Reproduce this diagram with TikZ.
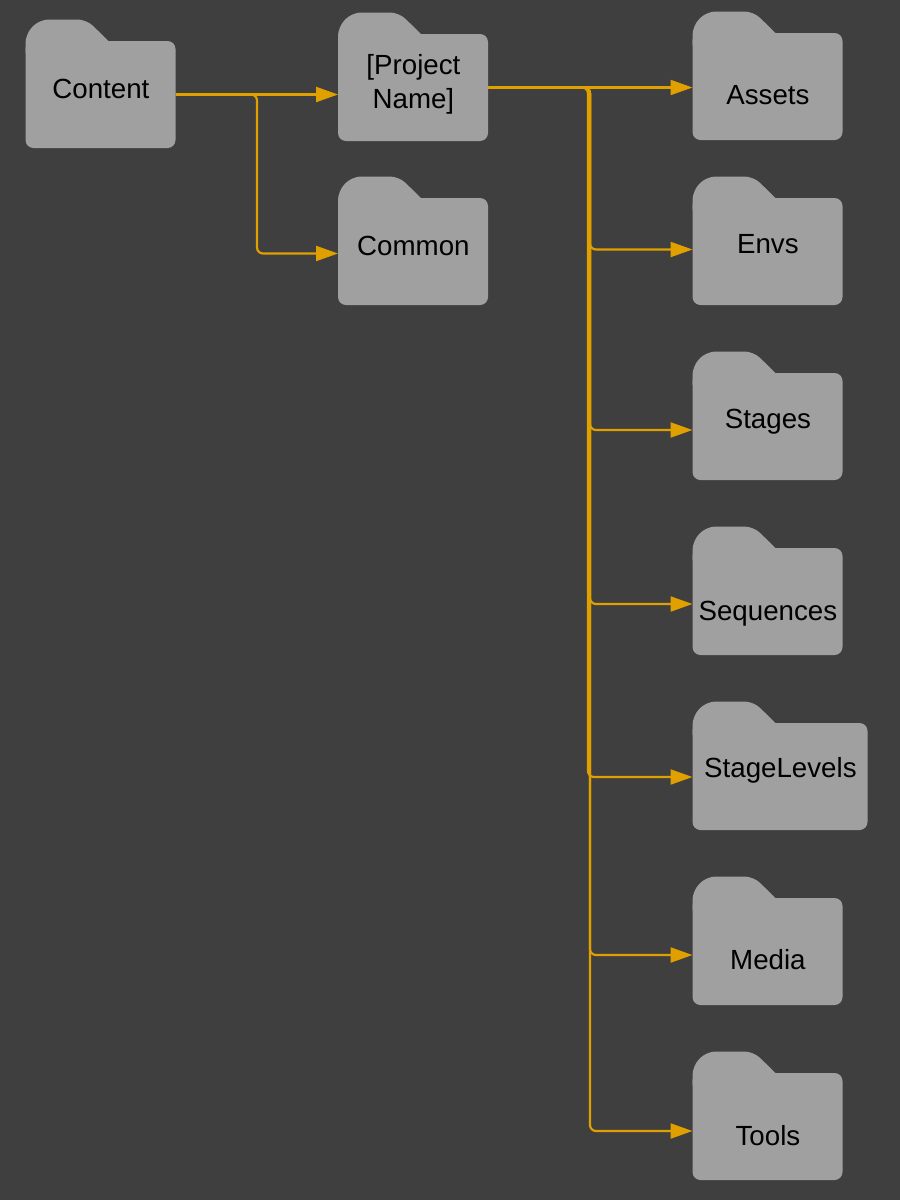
\documentclass[tikz,border=0pt]{standalone}
\usepackage{fontspec}
\setmainfont{Liberation Sans}
\usetikzlibrary{positioning,arrows.meta}

\definecolor{bggray}{HTML}{3F3F3F}
\definecolor{foldergray}{HTML}{A0A0A0}
\definecolor{arroworange}{HTML}{E0A000}

\begin{document}
\begin{tikzpicture}[
  foldernode/.style={rectangle, fill=foldergray, rounded corners=8pt, minimum width=150pt, minimum height=107pt,
    inner sep=0pt, outer sep=0pt,
    append after command={\pgfextra{
      \fill[foldergray, shift={(\tikzlastnode.north west)}] (0pt,-12pt)
        [rounded corners=9pt] -- (0pt,7pt) -- (14pt,21.5pt) -- (61pt,21.5pt)
        [sharp corners] -- (83pt,0pt) -- (83pt,-12pt) -- cycle;
    }}},
  folderlabel/.style={font=\fontsize{27.7pt}{33.5pt}\selectfont, align=center, text=black, inner sep=0pt, xshift=0.4pt},
  arrow/.style = {line width=2.2pt, arroworange, rounded corners=6pt, -{Triangle[length=22pt,width=15pt]}}
]

\fill[bggray, use as bounding box] (0pt,0pt) rectangle (900pt,-1200pt);

%Nodes
\node[foldernode, label={[folderlabel,yshift=5.5pt]center:Content}] (content) at (100.5pt,-94.5pt) {};
\node[foldernode, label={[folderlabel,yshift=3pt]center:{[Project\\Name]}}] (project) at (413pt,-87.5pt) {};
\node[foldernode, below=57pt of project, label={[folderlabel,yshift=5.5pt]center:Common}] (common) {};

\node[foldernode, label={[folderlabel,yshift=-8.5pt]center:Assets}] (assets) at (767.5pt,-86.5pt) {};
\node[foldernode, below=58pt of assets, label={[folderlabel,yshift=7.5pt]center:Envs}] (envs) {};
\node[foldernode, below=68pt of envs, label={[folderlabel,yshift=4.5pt]center:Stages}] (stages) {};
\node[foldernode, below=68pt of stages, label={[folderlabel,yshift=-12.5pt]center:Sequences}] (sequences) {};
\node[foldernode, minimum width=175pt, below=68pt of sequences.south west, anchor=north west, label={[folderlabel,yshift=6.5pt]center:StageLevels}] (stagelevels) {};
\node[foldernode, below=68pt of stagelevels.south west, anchor=north west, label={[folderlabel,yshift=-8.5pt]center:Media}] (media) {};
\node[foldernode, below=68pt of media, label={[folderlabel,yshift=-9.5pt]center:Tools}] (tools) {};

% Trunks
\coordinate (branchA) at (257pt,-170pt);
\coordinate (branchB) at (590pt,-170pt);
\coordinate (branchC) at (588pt,-170pt);

%Arrows
\draw[arrow] (content.east) -- ([yshift=-7pt]project.west);
\draw[arrow] (content.east) -| (branchA) |- ([yshift=-2pt]common.west);

\draw[arrow] (project.east) -- ([yshift=-1pt]assets.west);
\draw[arrow] (project.east) -| (branchB) |- ([yshift=2pt]envs.west);
\draw[arrow] (project.east) -| (branchB) |- ([yshift=-3.5pt]stages.west);
\draw[arrow] (project.east) -| (branchB) |- ([yshift=-2.5pt]sequences.west);
\draw[arrow] (project.east) -| (branchC) |- ([yshift=-0.5pt]stagelevels.west);
\draw[arrow] (project.east) -| (branchB) |- ([yshift=-3.5pt]media.west);
\draw[arrow] (project.east) -| (branchB) |- ([yshift=-4.5pt]tools.west);

\end{tikzpicture}
\end{document}
